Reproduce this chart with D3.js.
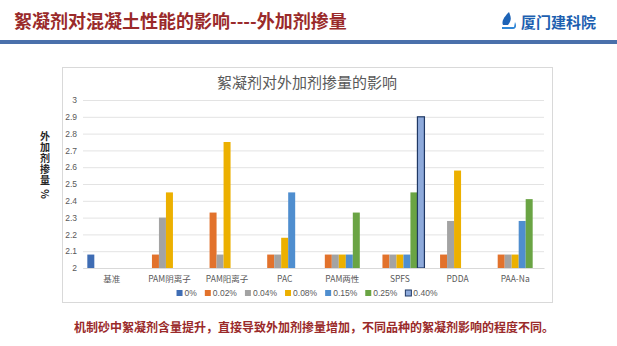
<!DOCTYPE html>
<html>
<head>
<meta charset="utf-8">
<script src="https://cdn.jsdelivr.net/npm/d3@7"></script>
<style>
  body { margin: 0; background: #fff; }
  svg { display: block; font-family: "Noto Sans CJK SC", "Noto Sans", sans-serif; }
</style>
</head>
<body>
<svg id="chart" width="617" height="346"></svg>
<script>
// chart data
const categories = ['基准', 'PAM阴离子', 'PAM阳离子', 'PAC', 'PAM两性', 'SPFS', 'PDDA', 'PAA-Na'];
const seriesNames = ['0%', '0.02%', '0.04%', '0.08%', '0.15%', '0.25%', '0.40%'];
const v000 = [2.08, null, null, null, null, null, null, null];
const v002 = [null, 2.08, 2.33, 2.08, 2.08, 2.08, 2.08, 2.08];
const v004 = [null, 2.30, 2.08, 2.08, 2.08, 2.08, 2.28, 2.08];
const v008 = [null, 2.45, 2.75, 2.18, 2.08, 2.08, 2.58, 2.08];
const v015 = [null, null, null, 2.45, 2.08, 2.08, null, 2.28];
const v025 = [null, null, null, null, 2.33, 2.45, null, 2.41];
const v040 = [null, null, null, null, null, 2.90, null, null];
const yTicks = [2, 2.1, 2.2, 2.3, 2.4, 2.5, 2.6, 2.7, 2.8, 2.9, 3];

const seriesValues = [v000, v002, v004, v008, v015, v025, v040];
const fills = ['#3f6db4', '#e2722c', '#a3a3a3', '#ecb000', '#4f8ecf', '#6aa444', '#8eaadb'];
const strokes = [null, null, null, null, null, null, '#1f3864'];

const svg = d3.select('#chart');

// slide header
svg.append('text')
    .attr('x', 14).attr('y', 28)
    .attr('font-size', 18).attr('font-weight', 'bold')
    .attr('fill', '#9a2a2a')
    .text('絮凝剂对混凝土性能的影响----外加剂掺量');

// logo
const logo = svg.append('g').attr('transform', 'translate(502,12)');
logo.append('path')
    .attr('d', 'M7,0 C9,5 10,8 6,13 L1,13 C-1,9 3,4 7,0 Z')
    .attr('fill', '#1d63b6');
logo.append('path')
    .attr('d', 'M0,15 L12,15 L13,10 C15,14 14,17 11,17 L0,17 Z')
    .attr('fill', '#2f86d6');
svg.append('text')
    .attr('x', 521).attr('y', 28)
    .attr('font-size', 15).attr('font-weight', 'bold')
    .attr('fill', '#1d5fb0')
    .text('厦门建科院');

svg.append('rect')
    .attr('x', 0).attr('y', 40).attr('width', 617).attr('height', 4)
    .attr('fill', '#4a70ab');

// chart frame
svg.append('rect')
    .attr('x', 62.5).attr('y', 67.5).attr('width', 490).attr('height', 235)
    .attr('fill', '#fff').attr('stroke', '#d9d9d9');

svg.append('text')
    .attr('x', 307).attr('y', 88)
    .attr('text-anchor', 'middle')
    .attr('font-size', 15).attr('fill', '#595959')
    .text('絮凝剂对外加剂掺量的影响');

// y axis title, written vertically like the Excel original
svg.append('text')
    .attr('x', 45).attr('y', 131)
    .style('writing-mode', 'vertical-rl')
    .style('letter-spacing', '1px')
    .attr('font-size', 10).attr('font-weight', 'bold').attr('fill', '#262626')
    .text('外加剂掺量 %');

const plot = { left: 83, right: 544, top: 100, bottom: 268 };

const x0 = d3.scaleBand()
    .domain(categories)
    .range([plot.left, plot.right])
    .paddingInner(0.15)
    .paddingOuter(0.075);

const x1 = d3.scaleBand()
    .domain(seriesNames)
    .range([0, x0.bandwidth()]);

const y = d3.scaleLinear()
    .domain([2, 3])
    .range([plot.bottom, plot.top]);

// gridlines + y labels
const yAxis = svg.append('g')
    .attr('transform', `translate(${plot.left},0)`)
    .call(d3.axisLeft(y).tickValues(yTicks).tickSize(-(plot.right - plot.left)).tickPadding(6).tickFormat(d3.format('')));
yAxis.select('.domain').remove();
yAxis.selectAll('.tick line').attr('stroke', '#e3e3e3');
yAxis.selectAll('.tick text').attr('fill', '#595959').attr('font-size', 8.5)
    .attr('font-family', '"Liberation Sans", sans-serif');

// bars
const bars = [];
seriesValues.forEach((vals, si) => {
    vals.forEach((v, ci) => {
        if (v != null) bars.push({ s: seriesNames[si], si, c: categories[ci], v });
    });
});

svg.append('g').selectAll('rect')
    .data(bars)
    .join('rect')
    .attr('x', d => x0(d.c) + x1(d.s))
    .attr('y', d => y(d.v))
    .attr('width', x1.bandwidth())
    .attr('height', d => y(2) - y(d.v))
    .attr('fill', d => fills[d.si])
    .attr('stroke', d => strokes[d.si])
    .attr('stroke-width', 1.2);

// x axis labels
const xAxis = svg.append('g')
    .attr('transform', `translate(0,${plot.bottom})`)
    .call(d3.axisBottom(x0).tickSize(0).tickPadding(8));
xAxis.select('.domain').attr('stroke', '#d9d9d9');
xAxis.selectAll('.tick text').attr('fill', '#595959').attr('font-size', 8.5)
    .attr('font-family', '"Noto Sans CJK SC", sans-serif');

// legend
const legend = svg.append('g');
let lx = 0;
seriesNames.forEach((name, i) => {
    const item = legend.append('g').attr('transform', `translate(${lx},0)`);
    item.append('rect')
        .attr('x', 0).attr('y', -3).attr('width', 6).attr('height', 6)
        .attr('fill', fills[i])
        .attr('stroke', strokes[i]).attr('stroke-width', 1);
    const t = item.append('text')
        .attr('x', 8).attr('y', 3)
        .attr('font-size', 8.5).attr('fill', '#595959')
        .attr('font-family', '"Liberation Sans", sans-serif')
        .text(name);
    lx += 8 + t.node().getComputedTextLength() + 8;
});
legend.attr('transform', `translate(${307 - (lx - 8) / 2},293)`);

// footer
svg.append('text')
    .attr('x', 74).attr('y', 332)
    .attr('font-size', 12).attr('font-weight', 'bold')
    .attr('fill', '#9a2a2a')
    .text('机制砂中絮凝剂含量提升，直接导致外加剂掺量增加，不同品种的絮凝剂影响的程度不同。');
</script>
</body>
</html>
